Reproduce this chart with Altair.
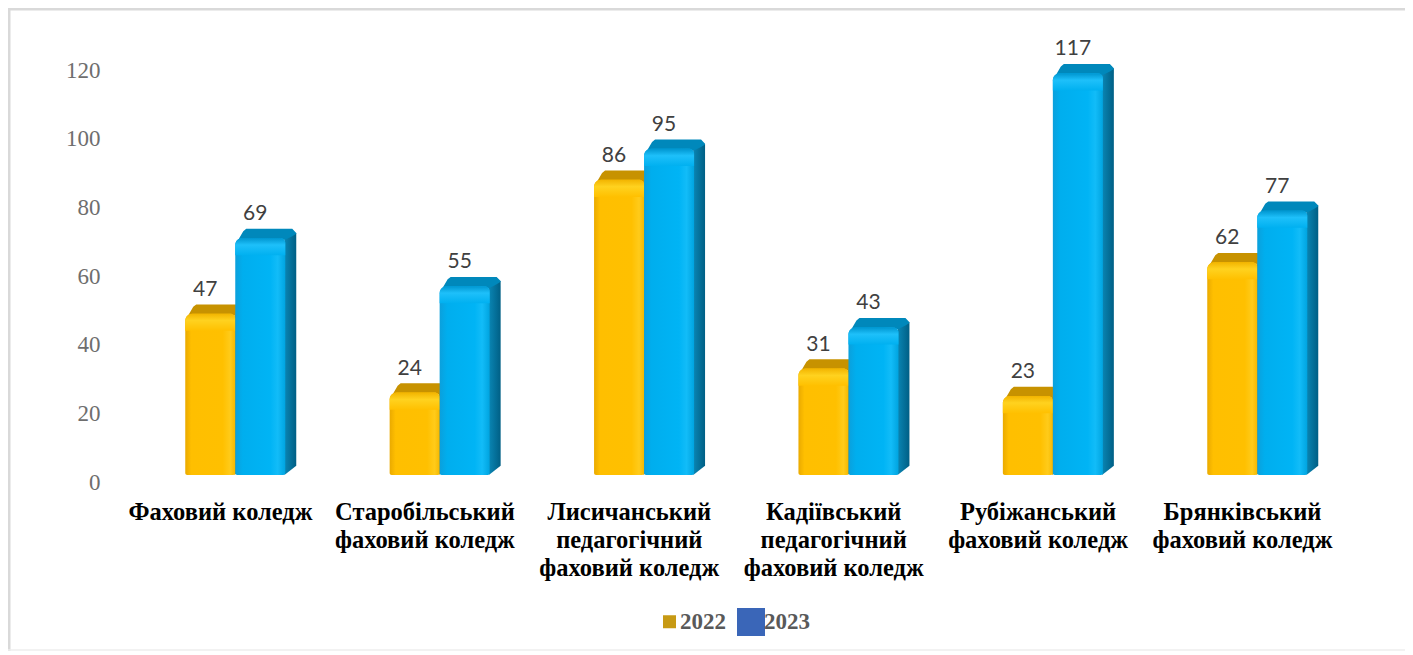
import altair as alt
import pandas as pd

names = ["Фаховий коледж", "Старобільський|фаховий коледж", "Лисичанський|педагогічний|фаховий коледж",
         "Кадіївський|педагогічний|фаховий коледж", "Рубіжанський|фаховий коледж", "Брянківський|фаховий коледж"]
v2022 = [47, 24, 86, 31, 23, 62]
v2023 = [69, 55, 95, 43, 117, 77]
ticks = [0, 20, 40, 60, 80, 100, 120]

W, H = 1397, 643
STEP = 204.4
PX = 1 / STEP
BAR = 50 / STEP
DX = 11 / STEP
DY = 2.7
LEFT = -0.17  # bar start relative to the category label centre
X0 = 212 / 1
XDOM = [-X0 / STEP, (W - X0) / STEP]
YDOM = [(467 - H) / 3.433, 467 / 3.433]

x_scale = alt.Scale(domain=XDOM, nice=False, zero=False)
y_scale = alt.Scale(domain=YDOM, nice=False, zero=False)

label_array = "[" + ",".join("'" + n + "'" for n in names) + "]"
x_axis = alt.Axis(
    values=list(range(len(names))), domain=False, ticks=False, grid=False, labelOverlap=False, title=None,
    labelExpr=f"split({label_array}[datum.value],'|')", labelFont="Liberation Serif", labelFontSize=24.5,
    labelFontWeight="bold", labelColor="#000000", labelLineHeight=28, labelBaseline="top", labelLimit=0,
    labelPadding=0, offset=-(H - 492), labelFlush=False, labelBound=False)
y_axis = alt.Axis(
    values=ticks, domain=False, ticks=False, grid=False, labelFont="Liberation Serif", labelFontSize=23, title=None,
    labelColor="#6e6e6e", labelPadding=0, offset=-92, labelOffset=7, labelBound=False, format="d")


def X(f):
    return alt.X(f, scale=x_scale, axis=x_axis)


def Y(f):
    return alt.Y(f, scale=y_scale, axis=y_axis)


def grad(stops, vertical=False):
    return alt.Gradient(
        gradient="linear",
        x1=0, y1=0, x2=0 if vertical else 1, y2=1 if vertical else 0,
        stops=[alt.GradientStop(offset=o, color=c) for o, c in stops],
    )


def series_layers(vals, k, front, top, side, cap):
    l = [i + LEFT + k * BAR for i in range(len(vals))]
    r = [a + BAR for a in l]
    side_rows, top_rows = [], []
    for i, v in enumerate(vals):
        under = v + (DY - 1.2) * (7 / 11) - 0.4
        side_rows += [
            dict(g=i, x=r[i] - 0.004, y=0, y2=v),
            dict(g=i, x=r[i] + DX, y=DY, y2=v + DY - 1.2),
        ]
        top_rows += [
            dict(g=i, x=l[i] + PX, y=v - 1.5, y2=v - 1.5),
            dict(g=i, x=l[i] + DX - 3 * PX, y=v + DY - 0.7, y2=v - 0.5),
            dict(g=i, x=l[i] + DX, y=v + DY, y2=v - 0.5),
            dict(g=i, x=r[i], y=v + DY, y2=v - 0.5),
            dict(g=i, x=r[i] + DX - 4 * PX, y=v + DY, y2=under),
            dict(g=i, x=r[i] + DX, y=v + DY - 1.2, y2=v + DY - 1.4),
        ]
    sides = alt.Chart(pd.DataFrame(side_rows)).mark_area(fill=grad(side), interpolate="linear").encode(
        x=X("x:Q"), y=Y("y:Q"), y2="y2:Q", detail="g:N")
    tops = alt.Chart(pd.DataFrame(top_rows)).mark_area(fill=top, interpolate="linear").encode(
        x=X("x:Q"), y=Y("y:Q"), y2="y2:Q", detail="g:N")
    d = pd.DataFrame(dict(x=l, x2=r, v=vals, z=[0] * len(vals), c=[v - 5 for v in vals]))
    fronts = alt.Chart(d).mark_bar(fill=grad(front), cornerRadiusTopLeft=7, cornerRadiusTopRight=5,
                                   cornerRadiusBottomLeft=2, cornerRadiusBottomRight=2).encode(
        x=X("x:Q"), x2="x2:Q", y=Y("v:Q"), y2="z:Q")
    caps = alt.Chart(d).mark_bar(fill=grad(cap, vertical=True), cornerRadiusTopLeft=7, cornerRadiusTopRight=5).encode(
        x=X("x:Q"), x2="x2:Q", y=Y("v:Q"), y2="c:Q")
    labels = alt.Chart(d.assign(t=vals, m=[a + BAR / 2 - 5 / STEP for a in l])).mark_text(
        font="Lato", fontSize=21, color="#404040", baseline="middle", dy=-24).encode(
        x=X("m:Q"), y=Y("v:Q"), text="t:N")
    return [sides, tops, fronts, caps, labels]


orange = series_layers(
    v2022, 0,
    [(0, "#eaaa00"), (0.12, "#ffbf00"), (0.75, "#ffc000"), (0.9, "#ffcb1a"), (1, "#f5b800")],
    "#c79200",
    [(0, "#c08f00"), (1, "#8f6b00")],
    [(0, "#f2b400"), (0.4, "#ffd21f"), (1, "#ffc000")],
)
blue = series_layers(
    v2023, 1,
    [(0, "#0ba0dc"), (0.15, "#00aeee"), (0.7, "#00b4f5"), (0.85, "#12bcf8"), (1, "#00a4e0")],
    "#0088bb",
    [(0, "#0a86b4"), (1, "#005f85")],
    [(0, "#0096d0"), (0.4, "#1ec0fa"), (1, "#00b0f0")],
)

legend = alt.Legend(
    title=None, orient="none", legendX=650, legendY=600, direction="horizontal",
    symbolType="square", labelFont="Liberation Serif", labelFontSize=23, labelFontWeight="bold",
    labelColor="#595959", labelOffset=alt.expr("-1"), columnPadding=11, symbolStrokeWidth=0,
)
keys = pd.DataFrame(dict(
    x=[LEFT + BAR / 2, LEFT + BAR * 1.5],
    y=[10, 10],
    series=["2022", "2023"],
))
key_layer = alt.Chart(keys).mark_point(shape="square", filled=True, opacity=1).encode(
    x=X("x:Q"),
    y=Y("y:Q"),
    color=alt.Color("series:O", scale=alt.Scale(domain=["2022", "2023"], range=["#c79a14", "#3a66b8"]), legend=legend),
    size=alt.Size("series:O", scale=alt.Scale(domain=["2022", "2023"], range=[169, 784]), legend=legend),
)

# frame: open on the right, heavy on top and left, faint at the bottom
frame_h = alt.Chart(pd.DataFrame(dict(x=[XDOM[0]], x2=[XDOM[1]], y=[YDOM[1] - 0.3]))).mark_rule(
    color="#d9d9d9", strokeWidth=3).encode(x=X("x:Q"), x2="x2:Q", y=Y("y:Q"))
frame_v = alt.Chart(pd.DataFrame(dict(x=[XDOM[0] + PX], y=[YDOM[0]], y2=[YDOM[1]]))).mark_rule(
    color="#d9d9d9", strokeWidth=3).encode(x=X("x:Q"), y=Y("y:Q"), y2="y2:Q")
frame_b = alt.Chart(pd.DataFrame(dict(x=[XDOM[0]], x2=[XDOM[1]], y=[YDOM[0] + 0.3]))).mark_rule(
    color="#eeeeee", strokeWidth=1.5).encode(x=X("x:Q"), x2="x2:Q", y=Y("y:Q"))

chart = alt.layer(frame_h, frame_v, frame_b, key_layer, *orange, *blue).properties(
    width=W, height=H, padding=0, autosize=alt.AutoSizeParams(type="none"),
).configure_view(stroke=None)

chart.save("out.html", embed_options={"renderer": "svg", "actions": False})
